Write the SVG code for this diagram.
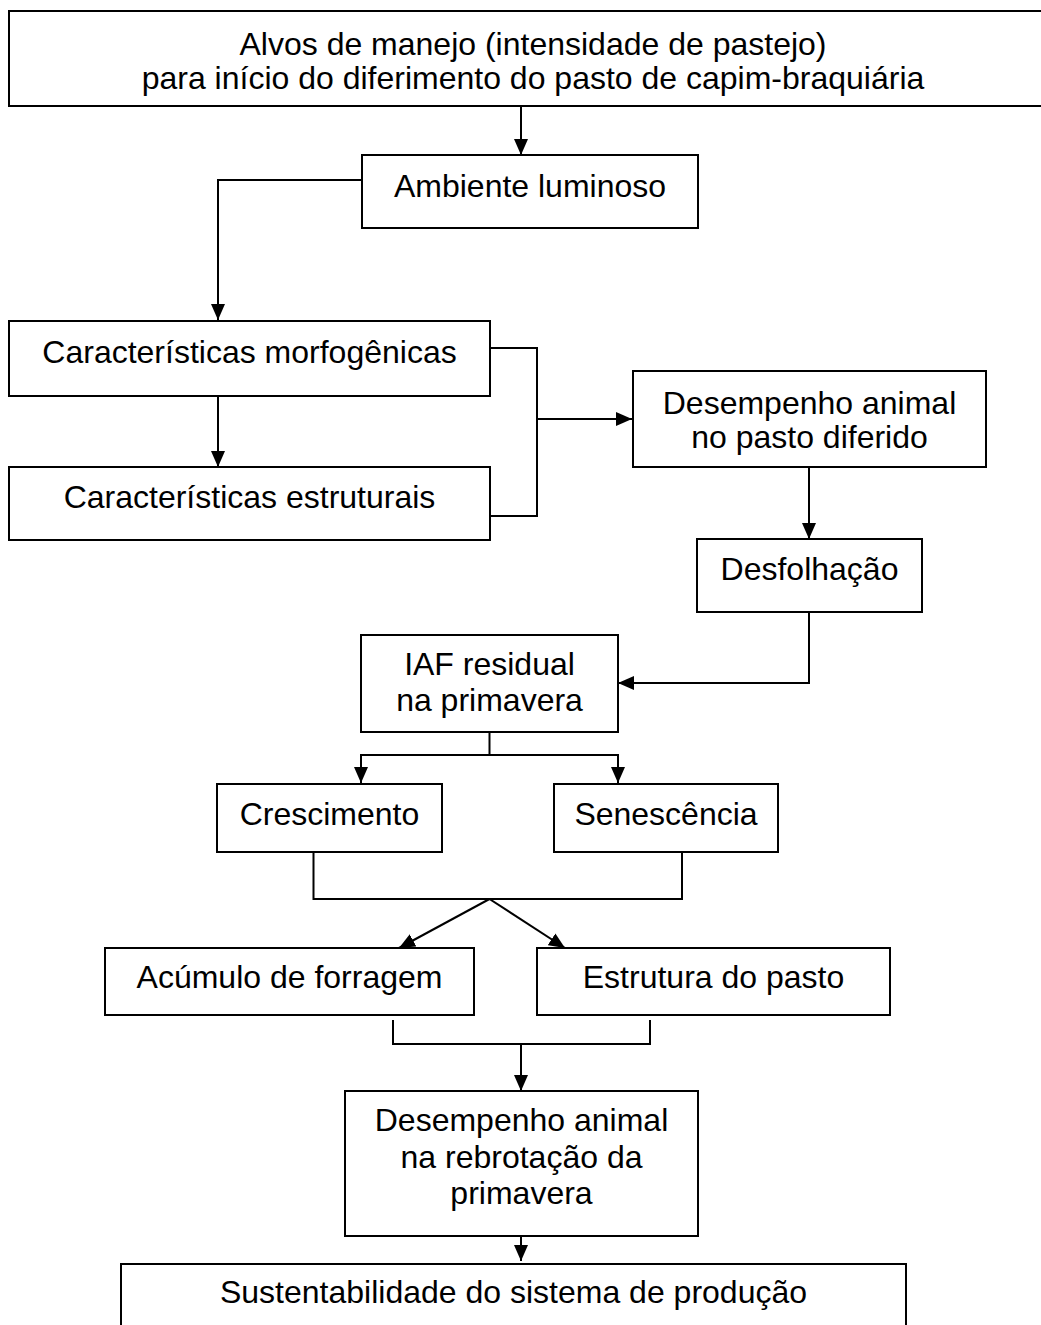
<svg xmlns="http://www.w3.org/2000/svg" width="1041" height="1325" viewBox="0 0 1041 1325">
<style>
.box{fill:#fff;stroke:#000;stroke-width:2}
.t{font-family:"Liberation Sans",Arial,sans-serif;font-size:32px;fill:#000;text-anchor:middle}
.c{fill:none;stroke:#000;stroke-width:2}
</style>
<defs>
<marker id="ah" viewBox="0 0 16 14" refX="16" refY="7" markerWidth="16" markerHeight="14" markerUnits="userSpaceOnUse" orient="auto">
<path d="M0,0 L16,7 L0,14 z" fill="#000"/>
</marker>
</defs>
<rect width="1041" height="1325" fill="#fff"/>
<g id="connectors">
<line class="c" x1="521" y1="106" x2="521" y2="155" marker-end="url(#ah)"/>
<polyline class="c" points="362,180 218,180 218,320" marker-end="url(#ah)"/>
<line class="c" x1="218" y1="396" x2="218" y2="467" marker-end="url(#ah)"/>
<polyline class="c" points="490,348 537,348 537,516 490,516"/>
<line class="c" x1="537" y1="419" x2="632" y2="419" stroke-width="3" marker-end="url(#ah)"/>
<line class="c" x1="809" y1="467" x2="809" y2="539" marker-end="url(#ah)"/>
<polyline class="c" points="809,612 809,683 618,683" marker-end="url(#ah)"/>
<line class="c" x1="489.5" y1="732" x2="489.5" y2="755"/>
<polyline class="c" points="361,770 361,755 618,755 618,770"/>
<line class="c" x1="361" y1="760" x2="361" y2="783" marker-end="url(#ah)"/>
<line class="c" x1="618" y1="760" x2="618" y2="783" marker-end="url(#ah)"/>
<polyline class="c" points="313.5,852 313.5,899 682,899 682,852"/>
<line class="c" x1="489.5" y1="899" x2="399" y2="948" marker-end="url(#ah)"/>
<line class="c" x1="489.5" y1="899" x2="565" y2="948" marker-end="url(#ah)"/>
<polyline class="c" points="393,1020 393,1044 650,1044 650,1020"/>
<line class="c" x1="521" y1="1044" x2="521" y2="1091" marker-end="url(#ah)"/>
<line class="c" x1="521" y1="1236" x2="521" y2="1261" marker-end="url(#ah)"/>
</g>
<g id="n1"><rect class="box" x="9" y="11" width="1048" height="95"/>
<text class="t" x="533" y="55">Alvos de manejo (intensidade de pastejo)</text>
<text class="t" x="533" y="89">para início do diferimento do pasto de capim-braquiária</text></g>
<g id="n2"><rect class="box" x="362" y="155" width="336" height="73"/>
<text class="t" x="530" y="197">Ambiente luminoso</text></g>
<g id="n3"><rect class="box" x="9" y="321" width="481" height="75"/>
<text class="t" x="249.5" y="363">Características morfogênicas</text></g>
<g id="n4"><rect class="box" x="9" y="467" width="481" height="73"/>
<text class="t" x="249.5" y="508">Características estruturais</text></g>
<g id="n5"><rect class="box" x="633" y="371" width="353" height="96"/>
<text class="t" x="809.5" y="414">Desempenho animal</text>
<text class="t" x="809.5" y="448">no pasto diferido</text></g>
<g id="n6"><rect class="box" x="697" y="539" width="225" height="73"/>
<text class="t" x="809.5" y="580">Desfolhação</text></g>
<g id="n7"><rect class="box" x="361" y="635" width="257" height="97"/>
<text class="t" x="489.5" y="675">IAF residual</text>
<text class="t" x="489.5" y="711">na primavera</text></g>
<g id="n8"><rect class="box" x="217" y="784" width="225" height="68"/>
<text class="t" x="329.5" y="825">Crescimento</text></g>
<g id="n9"><rect class="box" x="554" y="784" width="224" height="68"/>
<text class="t" x="666" y="825">Senescência</text></g>
<g id="n10"><rect class="box" x="105" y="948" width="369" height="67"/>
<text class="t" x="289.5" y="988">Acúmulo de forragem</text></g>
<g id="n11"><rect class="box" x="537" y="948" width="353" height="67"/>
<text class="t" x="713.5" y="988">Estrutura do pasto</text></g>
<g id="n12"><rect class="box" x="345" y="1091" width="353" height="145"/>
<text class="t" x="521.5" y="1131">Desempenho animal</text>
<text class="t" x="521.5" y="1168">na rebrotação da</text>
<text class="t" x="521.5" y="1204">primavera</text></g>
<g id="n13"><rect class="box" x="121" y="1264" width="785" height="80"/>
<text class="t" x="513.5" y="1303">Sustentabilidade do sistema de produção</text></g>
</svg>
